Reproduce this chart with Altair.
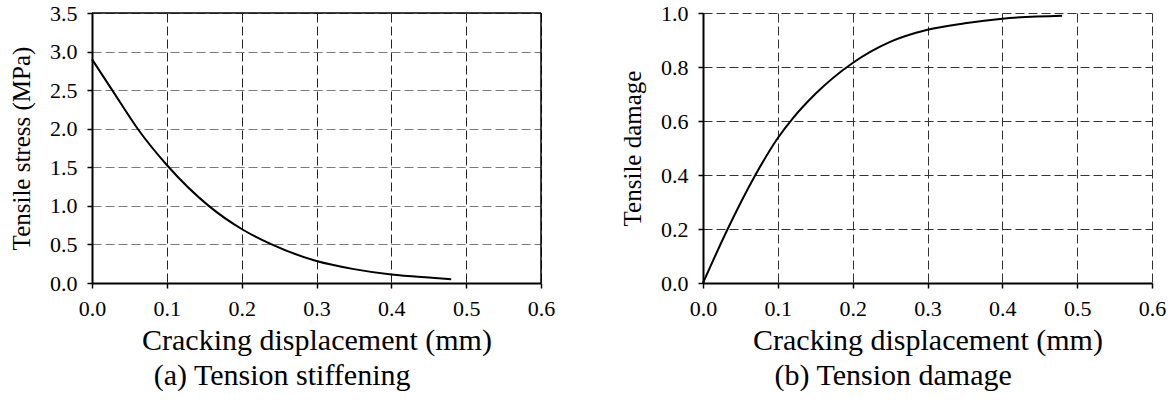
import altair as alt
import pandas as pd

# Tension stiffening: cracking displacement (mm) vs tensile stress (MPa)
stiff_disp = [0.0, 0.027, 0.061, 0.10, 0.156, 0.20, 0.24, 0.30, 0.35, 0.40, 0.45, 0.48]
stiff_stress = [2.90, 2.50, 2.00, 1.53, 1.00, 0.70, 0.50, 0.285, 0.18, 0.11, 0.07, 0.05]

# Tension damage: cracking displacement (mm) vs tensile damage
dmg_disp = [0.0, 0.033, 0.070, 0.10, 0.12, 0.15, 0.20, 0.25, 0.30, 0.35, 0.40, 0.48]
dmg_value = [0.0, 0.20, 0.40, 0.537, 0.61, 0.70, 0.815, 0.893, 0.938, 0.962, 0.979, 0.99]

x_ticks = [0.0, 0.1, 0.2, 0.3, 0.4, 0.5, 0.6]
stress_ticks = [0.0, 0.5, 1.0, 1.5, 2.0, 2.5, 3.0, 3.5]
damage_ticks = [0.0, 0.2, 0.4, 0.6, 0.8, 1.0]

FONT = "Liberation Serif"
W, H = 449, 270


def x_axis(grid_color):
    return alt.Axis(
        values=x_ticks, format=".1f", grid=True, gridDash=[9, 4],
        gridColor=grid_color, gridWidth=1, domainColor="black", domainWidth=2,
        tickColor="black", tickSize=5, tickWidth=1.5,
        labelFont=FONT, labelFontSize=22, labelColor="black", labelPadding=10,
        labelFlush=False, labelOverlap=False,
        title="Cracking displacement (mm)", titleFont=FONT, titleFontSize=30,
        titleFontWeight="normal", titleColor="black", titlePadding=6,
    )


def y_axis(values, title, grid_color):
    return alt.Axis(
        values=values, format=".1f", grid=True, gridDash=[9, 4],
        gridColor=grid_color, gridWidth=1, domainColor="black", domainWidth=2,
        tickColor="black", tickSize=5, tickWidth=1.5,
        labelFont=FONT, labelFontSize=22, labelColor="black", labelPadding=10,
        labelFlush=False, labelOverlap=False,
        title=title, titleFont=FONT, titleFontSize=25,
        titleFontWeight="normal", titleColor="black", titlePadding=15,
    )


def caption(text):
    return alt.TitleParams(
        text=text, orient="bottom", anchor="middle", frame="bounds",
        font=FONT, fontSize=30, fontWeight="normal", color="black", offset=6,
    )


stiff_df = pd.DataFrame({"disp": stiff_disp, "stress": stiff_stress})
dmg_df = pd.DataFrame({"disp": dmg_disp, "damage": dmg_value})

xs = alt.Scale(domain=[0, 0.6], nice=False, zero=False)
ys_stress = alt.Scale(domain=[0, 3.5], nice=False)
x_left_axis = x_axis("#222222")
y_left_axis = y_axis(stress_ticks, "Tensile stress (MPa)", "#7a7a7a")

stiff_line = alt.Chart(stiff_df).mark_line(
    color="black", strokeWidth=2, interpolate="monotone"
).encode(
    x=alt.X("disp:Q", scale=xs, axis=x_left_axis),
    y=alt.Y("stress:Q", scale=ys_stress, axis=y_left_axis),
)

# solid frame on the top and right edges of the stiffening panel
frame_top = alt.Chart(pd.DataFrame({"v": [3.5]})).mark_rule(
    color="black", strokeWidth=1.5
).encode(y=alt.Y("v:Q", scale=ys_stress, axis=y_left_axis))
frame_right = alt.Chart(pd.DataFrame({"v": [0.6]})).mark_rule(
    color="black", strokeWidth=1.5
).encode(x=alt.X("v:Q", scale=xs, axis=x_left_axis))

left = alt.layer(stiff_line, frame_top, frame_right).properties(
    width=W, height=H, title=caption("(a) Tension stiffening")
)

right = alt.Chart(dmg_df).mark_line(
    color="black", strokeWidth=2, interpolate="monotone"
).encode(
    x=alt.X("disp:Q", scale=xs, axis=x_axis("#333333")),
    y=alt.Y("damage:Q", scale=alt.Scale(domain=[0, 1], nice=False),
            axis=y_axis(damage_ticks, "Tensile damage", "#333333")),
).properties(width=W, height=H, title=caption("(b) Tension damage"))

chart = alt.hconcat(left, right, spacing=65).properties(
    padding={"left": 9, "top": 2, "right": 5, "bottom": 0},
    background="white",
).configure_view(stroke=None)

chart.save("out.html", embed_options={"renderer": "svg", "actions": False})
